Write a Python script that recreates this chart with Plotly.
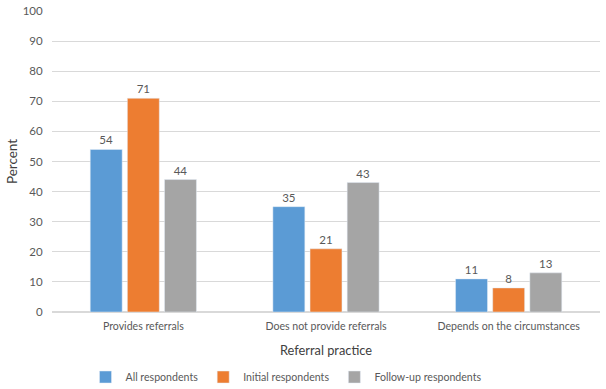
import plotly.graph_objects as go

categories = ["Provides referrals", "Does not provide referrals", "Depends on the circumstances"]
series_names = ["All respondents", "Initial respondents", "Follow-up respondents"]
all_resp = [54, 35, 11]
initial_resp = [71, 21, 8]
followup_resp = [44, 43, 13]
colors = ["#5B9BD5", "#ED7D31", "#A5A5A5"]
y_ticks = [0, 10, 20, 30, 40, 50, 60, 70, 80, 90, 100]

fig = go.Figure()
for name, vals, c in zip(series_names, [all_resp, initial_resp, followup_resp], colors):
    fig.add_trace(go.Bar(
        x=categories, y=vals, name=name, marker_color=c,
        text=[str(v) for v in vals], textposition="outside",
        textfont=dict(size=11.5, color="#595959"), cliponaxis=False,
    ))

font = "Lato, Open Sans, sans-serif"
fig.update_layout(
    width=606, height=389,
    margin=dict(l=52, r=6, t=11, b=77, autoexpand=False),
    paper_bgcolor="white", plot_bgcolor="white",
    barmode="group", bargap=0.39, bargroupgap=0.14,
    font=dict(family=font, color="#595959", size=11.5),
    xaxis=dict(
        title=dict(text="Referral practice", font=dict(size=12.8, color="#404040"), standoff=15),
        showgrid=False, showline=True, linecolor="#D9D9D9",
        ticks="outside", ticklen=4, tickcolor="rgba(0,0,0,0)",
        tickfont=dict(size=10.6, color="#595959"), automargin=False,
    ),
    yaxis=dict(
        title=dict(text="Percent", font=dict(size=13.5, color="#404040"), standoff=1),
        range=[0, 100], tickvals=y_ticks, showgrid=True, gridcolor="#D9D9D9",
        zeroline=True, zerolinecolor="#D9D9D9",
        ticks="outside", ticklen=6, tickcolor="rgba(0,0,0,0)",
        tickfont=dict(size=11.5, color="#595959"), automargin=False,
    ),
    legend=dict(orientation="h", x=0.427, xanchor="center", y=-0.216, yanchor="middle",
                font=dict(size=10.6, color="#595959"), itemwidth=30, tracegroupgap=0),
    showlegend=True,
)
fig.write_html("out.html", config={"displayModeBar": False},
               post_script="document.body.style.margin='0';")
